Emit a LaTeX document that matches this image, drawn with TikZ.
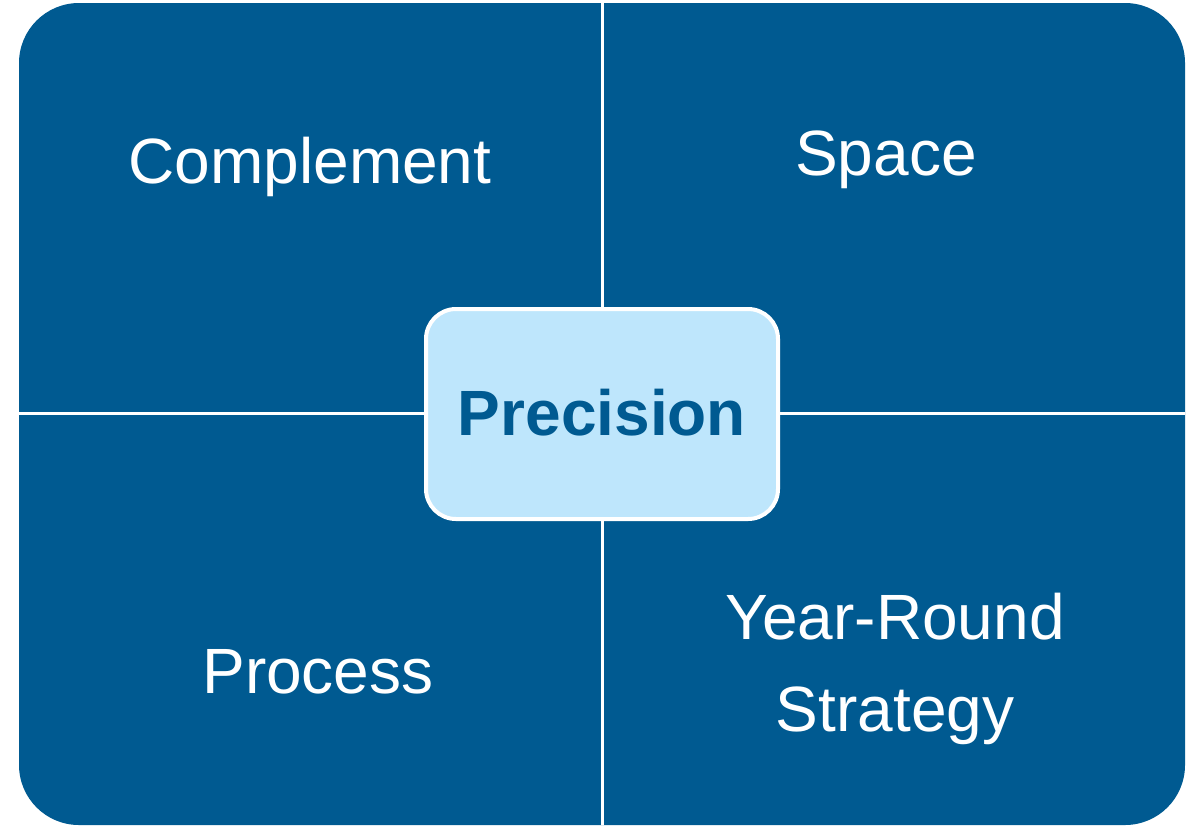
\documentclass[tikz,border=0pt]{standalone}
\usepackage{fontspec}
\setmainfont{Liberation Sans}
\definecolor{darkblue}{HTML}{005A91}
\definecolor{lightblue}{HTML}{BEE6FC}
\begin{document}
\begin{tikzpicture}[x=0.75pt,y=-0.75pt,
  lbl/.style={anchor=base,text=white,inner sep=0pt,font=\fontsize{48}{58}\selectfont},
  divider/.style={draw=white,line width=2.25pt}]
\useasboundingbox (0,0) rectangle (1195,826);
\fill[darkblue,rounded corners=45pt] (19,3) rectangle (1185,825);
\coordinate (vt) at (602,3);
\coordinate (vb) at (602,825);
\coordinate (hl) at (19,413);
\coordinate (hr) at (1185,413);
\draw[divider] (vt) -- (vb);
\draw[divider] (hl) -- (hr);
\draw[draw=white,line width=3pt,fill=lightblue,rounded corners=22.5pt] (426,309) rectangle (778,519);
\node[anchor=base,inner sep=0pt,text=darkblue,font=\fontsize{48}{58}\selectfont\bfseries] (prec) at (602,435) {Precision};
\node[lbl] (comp) at (310,183) {Complement};
\node[lbl] (space) at (886,175) {Space};
\node[lbl] (proc) at (318,693) {Process};
\node[lbl] (year) at (895,639) {Year-Round};
\node[lbl] (strat) at (895,731) {Strategy};
\end{tikzpicture}
\end{document}
